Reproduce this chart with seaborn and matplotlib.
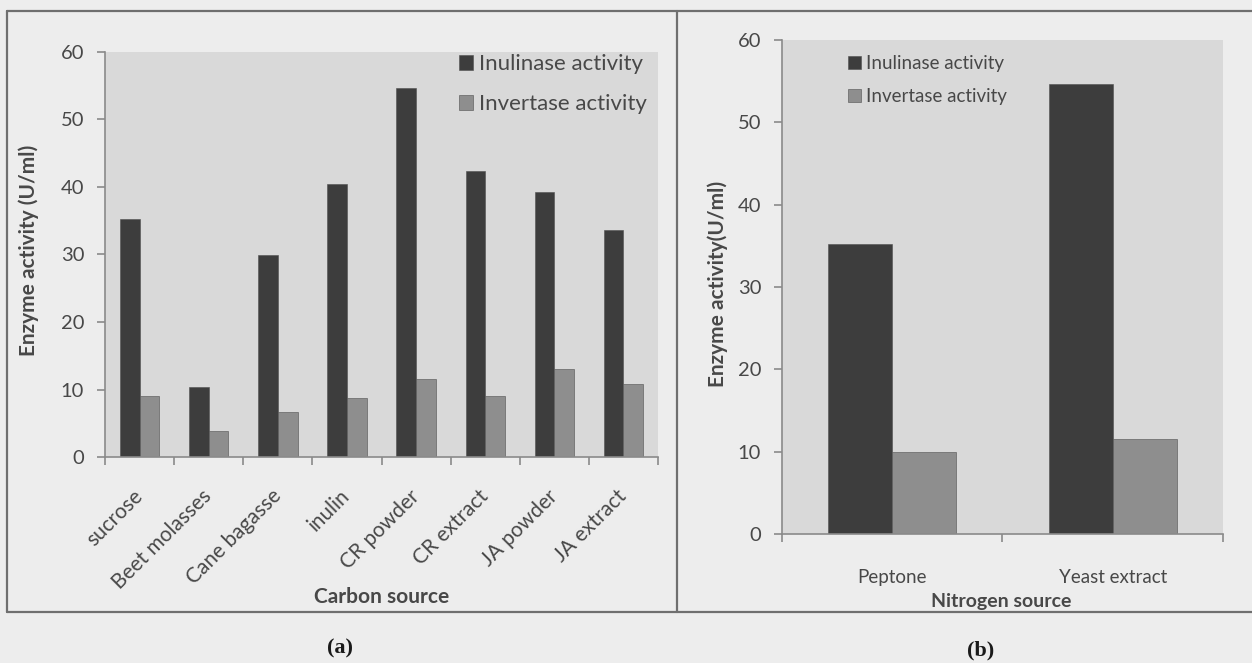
import numpy as np
import pandas as pd
import matplotlib
matplotlib.use('Agg')
import matplotlib.pyplot as plt
from matplotlib.lines import Line2D
import seaborn as sns

carbon_sources = ['sucrose', 'Beet molasses', 'Cane bagasse', 'inulin',
                  'CR powder', 'CR extract', 'JA powder', 'JA extract']
carbon_inulinase = [35.2, 10.3, 29.9, 40.4, 54.7, 42.4, 39.2, 33.7]
carbon_invertase = [9.0, 3.9, 6.6, 8.8, 11.5, 9.1, 13.1, 10.8]

nitrogen_sources = ['Peptone', 'Yeast extract']
nitrogen_inulinase = [35.2, 54.6]
nitrogen_invertase = [9.9, 11.5]

series = ['Inulinase activity', 'Invertase activity']
yticks = [0, 10, 20, 30, 40, 50, 60]

sns.set_theme(style='white')
plt.rcParams['font.family'] = ['Lato', 'DejaVu Sans']

PAPER = '#ededed'
PLOT_BG = '#d9d9d9'
TXT = '#484848'
EDGE = '#8a8a8a'
palette = {'Inulinase activity': '#3d3d3d', 'Invertase activity': '#8e8e8e'}


def long_df(cats, inul, inv):
    return pd.DataFrame({
        'source': cats * 2,
        'activity': inul + inv,
        'kind': [series[0]] * len(cats) + [series[1]] * len(cats),
    })


def style_axes(ax, n):
    ax.set_facecolor(PLOT_BG)
    ax.set_ylim(0, 60)
    ax.set_xlim(-0.5, n - 0.5)
    ax.set_yticks(yticks)
    for s in ['top', 'right']:
        ax.spines[s].set_visible(False)
    for s in ['left', 'bottom']:
        ax.spines[s].set_color(EDGE)
        ax.spines[s].set_linewidth(1.2)
    ax.tick_params(axis='y', left=True, length=6, width=1.2, color=EDGE,
                   direction='out', labelsize=14.5, labelcolor=TXT, pad=9)
    ax.set_xticks(np.arange(-0.5, n), minor=True)
    ax.tick_params(axis='x', which='minor', bottom=True, length=6, width=1.2,
                   color=EDGE, direction='out')
    ax.tick_params(axis='x', which='major', bottom=False, labelcolor=TXT)
    ax.set_xlabel('')
    ax.set_ylabel('')


fig = plt.figure(figsize=(12.52, 6.63), dpi=100)
fig.patch.set_facecolor(PAPER)

# ---- (a) carbon source ----
ax1 = fig.add_axes([0.0839, 0.3107, 0.4417, 0.6109])
sns.barplot(data=long_df(carbon_sources, carbon_inulinase, carbon_invertase),
            x='source', y='activity', hue='kind', palette=palette,
            width=0.57, saturation=1, edgecolor='#505050', linewidth=0.4,
            errorbar=None, ax=ax1)
style_axes(ax1, len(carbon_sources))
ax1.set_xticks(range(len(carbon_sources)))
ax1.set_xticklabels(carbon_sources, rotation=45, ha='right', va='center',
                    rotation_mode='anchor', fontsize=15)
ax1.tick_params(axis='x', which='major', pad=20)
h, l = ax1.get_legend_handles_labels()
ax1.legend(h, l, loc='upper left', bbox_to_anchor=(459 / 1252, 1 - 54 / 663),
           bbox_transform=fig.transFigure, frameon=False, fontsize=16,
           handlelength=0.65, handleheight=0.65, handletextpad=0.25,
           labelspacing=0.9, borderpad=0, borderaxespad=0, labelcolor=TXT)

# ---- (b) nitrogen source ----
ax2 = fig.add_axes([0.6246, 0.1946, 0.3522, 0.7451])
sns.barplot(data=long_df(nitrogen_sources, nitrogen_inulinase, nitrogen_invertase),
            x='source', y='activity', hue='kind', palette=palette,
            width=0.58, saturation=1, edgecolor='#505050', linewidth=0.4,
            errorbar=None, ax=ax2)
style_axes(ax2, len(nitrogen_sources))
ax2.set_xticks(range(len(nitrogen_sources)))
ax2.set_xticklabels(nitrogen_sources, fontsize=13.5)
ax2.tick_params(axis='x', which='major', pad=19)
h, l = ax2.get_legend_handles_labels()
ax2.legend(h, l, loc='upper left', bbox_to_anchor=(848 / 1252, 1 - 55 / 663),
           bbox_transform=fig.transFigure, frameon=False, fontsize=13.5,
           handlelength=0.7, handleheight=0.7, handletextpad=0.25,
           labelspacing=0.85, borderpad=0, borderaxespad=0, labelcolor=TXT)

# axis titles
fig.text(29 / 1252, 1 - 250 / 663, 'Enzyme activity (U/ml)', rotation=90,
         ha='center', va='center', fontsize=15, fontweight='bold', color=TXT)
fig.text(718 / 1252, 1 - 284 / 663, 'Enzyme activity(U/ml)', rotation=90,
         ha='center', va='center', fontsize=15, fontweight='bold', color=TXT)
fig.text(382 / 1252, 1 - 597 / 663, 'Carbon source', ha='center', va='center',
         fontsize=15, fontweight='bold', color=TXT)
fig.text(1001 / 1252, 1 - 601 / 663, 'Nitrogen source', ha='center', va='center',
         fontsize=14, fontweight='bold', color=TXT)

# panel frame
frame = dict(color='#6f6f6f', lw=1.6, transform=fig.transFigure)
top, bot = 1 - 11 / 663, 1 - 612 / 663
fig.add_artist(Line2D([7 / 1252, 1], [top, top], **frame))
fig.add_artist(Line2D([7 / 1252, 1], [bot, bot], **frame))
fig.add_artist(Line2D([7 / 1252, 7 / 1252], [bot, top], **frame))
fig.add_artist(Line2D([677 / 1252, 677 / 1252], [bot, top], **frame))

# panel letters
fig.text(340 / 1252, 1 - 648 / 663, '(a)', ha='center', va='center', fontsize=16,
         fontweight='bold', family=['Liberation Serif', 'DejaVu Serif'], color='#1a1a1a')
fig.text(981 / 1252, 1 - 650 / 663, '(b)', ha='center', va='center', fontsize=16,
         fontweight='bold', family=['Liberation Serif', 'DejaVu Serif'], color='#1a1a1a')

fig.savefig('out.png', dpi=100, facecolor=fig.get_facecolor())
